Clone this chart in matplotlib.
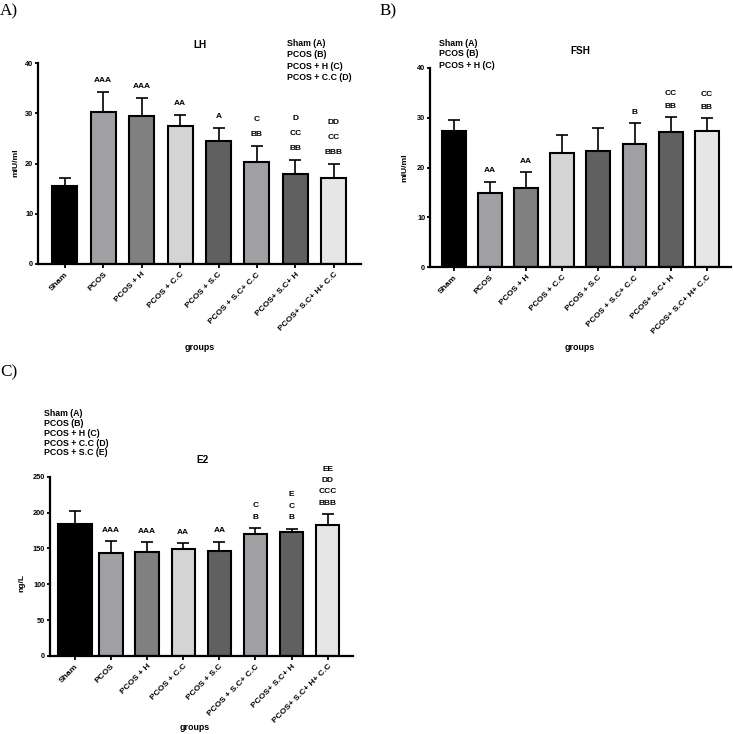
import numpy as np
from matplotlib import pyplot as plt

plt.rcParams['font.family'] = 'Liberation Sans'
plt.rcParams['font.weight'] = 'bold'

groups = ['Sham', 'PCOS', 'PCOS + H', 'PCOS + C.C', 'PCOS + S.C',
          'PCOS + S.C+ C.C', 'PCOS+ S.C+ H', 'PCOS+ S.C+ H+ C.C']
bar_colors = ['#000000', '#a0a0a4', '#808080', '#d4d4d4',
              '#606060', '#a0a0a4', '#606060', '#e6e6e6']

lh_mean = [15.6, 30.3, 29.5, 27.5, 24.5, 20.3, 18.0, 17.1]
lh_sd = [1.5, 4.0, 3.6, 2.2, 2.6, 3.2, 2.7, 2.8]
lh_marks = [[], ['AAA'], ['AAA'], ['AA'], ['A'], ['C', 'BB'],
            ['D', 'CC', 'BB'], ['DD', 'CC', 'BBB']]
lh_legend = ['Sham (A)', 'PCOS (B)', 'PCOS + H (C)', 'PCOS + C.C (D)']

fsh_mean = [27.3, 14.9, 15.8, 22.9, 23.3, 24.7, 27.2, 27.3]
fsh_sd = [2.3, 2.2, 3.2, 3.6, 4.6, 4.2, 2.9, 2.6]
fsh_marks = [[], ['AA'], ['AA'], [], [], ['B'], ['CC', 'BB'], ['CC', 'BB']]
fsh_legend = ['Sham (A)', 'PCOS (B)', 'PCOS + H (C)']

e2_mean = [184, 143.5, 145, 149.6, 146.3, 170.8, 172.2, 183.3]
e2_sd = [18.8, 16.2, 13.4, 7.3, 12.5, 7.4, 5.1, 14.3]
e2_marks = [[], ['AAA'], ['AAA'], ['AA'], ['AA'], ['C', 'B'],
            ['E', 'C', 'B'], ['EE', 'DD', 'CCC', 'BBB']]
e2_legend = ['Sham (A)', 'PCOS (B)', 'PCOS + H (C)', 'PCOS + C.C (D)', 'PCOS + S.C (E)']

W, H = 733, 734
fig = plt.figure(figsize=(W / 100, H / 100), dpi=100)


def px(x, y):
    return x / W, 1 - y / H


def panel(box, xlim, mean, sd, marks, ymax, ystep, title, ylabel,
          widths, step, legend, leg_xy, leg_dy, title_xy, ylab_xy, xlab_xy,
          letter, letter_xy):
    l, r, b, t = box
    ax = fig.add_axes([l / W, 1 - b / H, (r - l) / W, (b - t) / H])
    x = np.arange(len(mean))
    ax.errorbar(x, mean, yerr=[np.zeros(len(sd)), sd], fmt='none',
                ecolor='black', elinewidth=1.2, capsize=4.3, capthick=1.2,
                zorder=1)
    ax.bar(x, mean, width=widths, color=bar_colors, edgecolor='black',
           linewidth=1.5, zorder=2)
    ax.set_xlim(*xlim)
    ax.set_ylim(0, ymax)
    ax.set_yticks(np.arange(0, ymax + 1, ystep))
    ax.set_xticks(x)
    ax.set_xticklabels(groups, rotation=45, ha='right',
                       rotation_mode='anchor', fontsize=6)
    ax.tick_params(axis='y', labelsize=5.3, width=1.3, length=2.5, pad=1)
    ax.tick_params(axis='x', width=1.3, length=3, pad=2)
    for s in ['top', 'right']:
        ax.spines[s].set_visible(False)
    for s in ['left', 'bottom']:
        ax.spines[s].set_linewidth(1.6)
    for i, m in enumerate(marks):
        for j, txt in enumerate(reversed(m)):
            ax.annotate(txt, (x[i], mean[i] + sd[i]), xytext=(0, 8 + j * step),
                        textcoords='offset points', ha='center', va='center',
                        fontsize=6)
    for k, txt in enumerate(legend):
        fig.text(*px(leg_xy[0], leg_xy[1] + k * leg_dy), txt, fontsize=6.3,
                 ha='left', va='center')
    fig.text(*px(*title_xy), title, fontsize=7.2, ha='center', va='center')
    fig.text(*px(*ylab_xy), ylabel, fontsize=6.1, rotation=90,
             ha='center', va='center')
    fig.text(*px(*xlab_xy), 'groups', fontsize=6.4, ha='center', va='center')
    fig.text(*px(*letter_xy), letter, fontsize=12.3, family='Liberation Serif',
             weight='normal', ha='left', va='center')
    return ax


panel((38, 361, 264, 63), (-0.70, 7.71), lh_mean, lh_sd, lh_marks, 40, 10,
      'LH', 'mIU/ml', 0.65, 11, lh_legend, (287, 43), 11.6, (200, 45),
      (16, 163), (200, 347), 'A)', (0, 11))

panel((430, 731, 267, 68), (-0.66, 7.67), fsh_mean, fsh_sd, fsh_marks, 40, 10,
      'FSH', 'mIU/ml', 0.66, 8.8, fsh_legend, (439, 43), 11, (580, 51),
      (405, 168), (580, 347), 'B)', (380, 11))

panel((50, 353, 656, 476.7), (-0.69, 7.70), e2_mean, e2_sd, e2_marks, 250, 50,
      'E2', 'ng/L', [0.94] + [0.65] * 7, 8.2, e2_legend, (44, 413), 10,
      (202, 460), (22, 583), (195, 728), 'C)', (0, 372))

fig.savefig('out.png', dpi=100)
